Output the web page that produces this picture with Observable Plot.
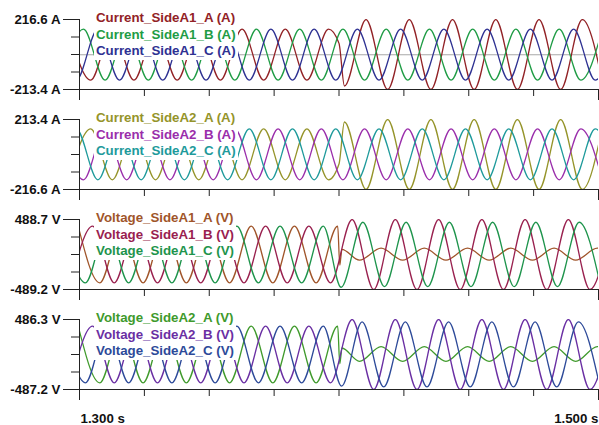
<!DOCTYPE html>
<html><head><meta charset="utf-8">
<script src="https://cdn.jsdelivr.net/npm/d3@7"></script>
<script src="https://cdn.jsdelivr.net/npm/@observablehq/plot@0.6"></script>
<style>
body{margin:0;background:#fff;}
#wrap{position:relative;width:599px;}
.panel{position:relative;width:599px;}
.panel svg{display:block;}
.legend{position:absolute;left:94px;top:9.4px;background:#fff;padding:1px 2px 1px 2px;
  font:bold 13.3px "Liberation Sans",Arial,sans-serif;line-height:16.3px;white-space:nowrap;}
</style></head><body><div id="wrap"></div>
<script>
// ---- time axis ----
const xDomain = [1.3, 1.5];
const xMajorTicks = [1.3, 1.5];
const xMinorTicks = [1.325, 1.35, 1.375, 1.4, 1.425, 1.45, 1.475];
const xLabels = ["1.300 s", "1.500 s"];
const HALF = 1 / 120; // spacing between successive peak/trough of the 60 Hz waves

// ---- panel 1: Current_SideA1 (A) ----
const p1Names = ["Current_SideA1_A (A)", "Current_SideA1_B (A)", "Current_SideA1_C (A)"];
const p1Range = [-213.4, 216.6];
const iA1_A = {t0: 1.29597, pre: [157,-156,157,-156,157,-156,157,-156,157,-156,157,-156,157],
  mid: [[1.4000, 70], [1.4021, -192]],
  t1: 1.41042, post: [216,-213,216,-213,216,-213,216,-213,216,-213,216,-213]};
const iA1_B = {t0: 1.29319, pre: [-156,157,-156,157,-156,157,-156,157,-156,157,-156,157,-156,157,-156,157,-156,157,-156,157,-156,157,-156,157,-156,157]};
const iA1_C = {t0: 1.29042, pre: [157,-156,157,-156,157,-156,157,-156,157,-156,157,-156,157,-156,157,-156,157,-156,157,-156,157,-156,157,-156,157,-156,157]};

// ---- panel 2: Current_SideA2 (A) ----
const p2Names = ["Current_SideA2_A (A)", "Current_SideA2_B (A)", "Current_SideA2_C (A)"];
const p2Range = [-216.6, 213.4];
const iA2_A = {t0: 1.29597, pre: [-157,156,-157,156,-157,156,-157,156,-157,156,-157,156,-157],
  mid: [[1.4000, -60], [1.4021, 198]],
  t1: 1.41042, post: [-216,213,-216,213,-216,213,-216,213,-216,213,-216,213]};
const iA2_B = {t0: 1.29319, pre: [156,-157,156,-157,156,-157,156,-157,156,-157,156,-157,156,-157,156,-157,156,-157,156,-157,156,-157,156,-157,156,-157]};
const iA2_C = {t0: 1.29042, pre: [-157,156,-157,156,-157,156,-157,156,-157,156,-157,156,-157,156,-157,156,-157,156,-157,156,-157,156,-157,156,-157,156,-157]};

// ---- panel 3: Voltage_SideA1 (V) ----
const p3Names = ["Voltage_SideA1_A (V)", "Voltage_SideA1_B (V)", "Voltage_SideA1_C (V)"];
const p3Range = [-489.2, 488.7];
const vA1_A = {t0: 1.2995, pre: [396,-396,396,-396,396,-396,396,-396,396,-396,396,-396,396],
  mid: [[1.4003, -150], [1.4007, -40], [1.4011, 70]],
  t1: 1.40788, post: [-80,88,-80,88,-80,88,-80,88,-80,88,-80,88,-80]};
const vA1_B = {t0: 1.29672, pre: [-396,396,-396,396,-396,396,-396,396,-396,396,-396,396,-396,
  488,-489,488,-489,488,-489,488,-489,488,-489,488,-489,488]};
const vA1_C = {t0: 1.29394, pre: [396,-396,396,-396,396,-396,396,-396,396,-396,396,-396,396],
  mid: [[1.4008, -458]],
  t1: 1.4092, post: [450,-450,450,-450,450,-450,450,-450,450,-450,450,-450]};

// ---- panel 4: Voltage_SideA2 (V) ----
const p4Names = ["Voltage_SideA2_A (V)", "Voltage_SideA2_B (V)", "Voltage_SideA2_C (V)"];
const p4Range = [-487.2, 486.3];
const vA2_A = {t0: 1.2995, pre: [394,-394,394,-394,394,-394,394,-394,394,-394,394,-394,394],
  mid: [[1.4003, -130], [1.4007, -30], [1.4011, 90]],
  t1: 1.40788, post: [-95,110,-95,110,-95,110,-95,110,-95,110,-95,110,-95]};
const vA2_B = {t0: 1.29672, pre: [-394,394,-394,394,-394,394,-394,394,-394,394,-394,394,-394,
  486,-487,486,-487,486,-487,486,-487,486,-487,486,-487,486]};
const vA2_C = {t0: 1.29394, pre: [394,-394,394,-394,394,-394,394,-394,394,-394,394,-394,394],
  mid: [[1.4010, -441]],
  t1: 1.4089, post: [452,-452,452,-452,452,-452,452,-452,452,-452,452,-452]};

// ---- build ----
function series(s) {
  const out = [];
  s.pre.forEach((v, i) => out.push({t: s.t0 + i * HALF, v}));
  (s.mid || []).forEach(([t, v]) => out.push({t, v}));
  (s.post || []).forEach((v, i) => out.push({t: s.t1 + i * HALF, v}));
  return out;
}

const panels = [
  {names: p1Names, range: p1Range, unit: "A", zero: true, traces: [iA1_A, iA1_B, iA1_C],
   colors: ["#922226", "#1F9C45", "#2E3192"]},
  {names: p2Names, range: p2Range, unit: "A", zero: false, traces: [iA2_A, iA2_B, iA2_C],
   colors: ["#95942A", "#9A2EAB", "#1E9A9B"]},
  {names: p3Names, range: p3Range, unit: "V", zero: false, traces: [vA1_A, vA1_B, vA1_C],
   colors: ["#A0552A", "#99214F", "#1E944C"]},
  {names: p4Names, range: p4Range, unit: "V", zero: false, traces: [vA2_A, vA2_B, vA2_C],
   colors: ["#409A2C", "#6A2FA3", "#2D4A99"]}
];

const font = '"Liberation Sans", Arial, sans-serif';
const wrap = document.getElementById("wrap");

panels.forEach((p, idx) => {
  const last = idx === panels.length - 1;
  const [lo, hi] = p.range;
  const minor = [1, 2, 3].map(k => lo + (hi - lo) * k / 4);
  const marks = [];
  if (p.zero) marks.push(Plot.ruleY([0], {stroke: "#a8a8a8", strokeWidth: 1}));
  p.traces.forEach((tr, j) => marks.push(
    Plot.line(series(tr), {x: "t", y: "v", stroke: p.colors[j], strokeWidth: 1.3, curve: "monotone-x", clip: true})
  ));
  marks.push(Plot.ruleX([xDomain[0]], {stroke: "#222"}));
  marks.push(Plot.ruleY([lo], {stroke: "#222"}));
  marks.push(Plot.axisY([lo, hi], {tickSize: 16, tickPadding: 3, stroke: "#222", fill: "#111",
    tickFormat: d => d.toFixed(1) + " " + p.unit, label: null}));
  marks.push(Plot.axisY(minor, {tickSize: 8, stroke: "#222", tickFormat: () => "", label: null}));
  marks.push(Plot.axisX(xMajorTicks, {tickSize: 11, stroke: "#222", tickFormat: () => "", label: null}));
  marks.push(Plot.axisX(xMinorTicks, {tickSize: 7, stroke: "#222", tickFormat: () => "", label: null}));
  if (last) {
    marks.push(Plot.text([xMajorTicks[0]], {x: d => d, frameAnchor: "bottom", lineAnchor: "middle", dy: 29, dx: 1,
      textAnchor: "start", text: () => xLabels[0], fill: "#111"}));
    marks.push(Plot.text([xMajorTicks[1]], {x: d => d, frameAnchor: "bottom", lineAnchor: "middle", dy: 29,
      textAnchor: "end", text: () => xLabels[1], fill: "#111"}));
  }
  const chart = Plot.plot({
    width: 599,
    height: last ? 125 : 100,
    marginTop: 19,
    marginBottom: last ? 36 : 11,
    marginLeft: 79,
    marginRight: 1,
    x: {domain: xDomain, label: null},
    y: {domain: [lo, hi], label: null},
    style: {fontFamily: font, fontSize: "13.3px", fontWeight: "bold", background: "#fff", color: "#111", overflow: "visible"},
    marks
  });
  const div = document.createElement("div");
  div.className = "panel";
  div.appendChild(chart);
  const leg = document.createElement("div");
  leg.className = "legend";
  p.names.forEach((n, j) => {
    const line = document.createElement("div");
    line.textContent = n;
    line.style.color = p.colors[j];
    leg.appendChild(line);
  });
  div.appendChild(leg);
  wrap.appendChild(div);
});
</script>
</body></html>
